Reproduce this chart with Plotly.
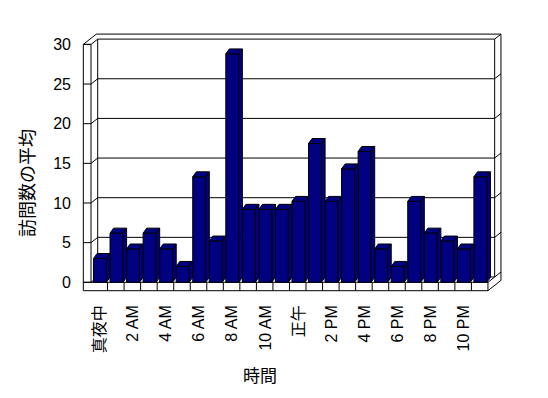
import plotly.graph_objects as go

# ---------------- data ----------------
hours = list(range(24))
visits = [3.0, 6.2, 4.2, 6.2, 4.2, 2.0, 13.3, 5.2, 28.8, 9.2, 9.2, 9.2,
          10.2, 17.5, 10.2, 14.3, 16.5, 4.2, 2.0, 10.2, 6.2, 5.2, 4.2, 13.3]
label_hours = [0, 2, 4, 6, 8, 10, 12, 14, 16, 18, 20, 22]
label_texts = ["真夜中", "2 AM", "4 AM", "6 AM", "8 AM", "10 AM",
               "正午", "2 PM", "4 PM", "6 PM", "8 PM", "10 PM"]
y_ticks = [0, 5, 10, 15, 20, 25, 30]
y_title = "訪問数の平均"
x_title = "時間"

# ---------------- layout calibration ----------------
# The page body has an 8px margin, so the figure starts at (8, 8) on screen.
OFF = 8
W, H = 548 - OFF, 398 - OFF
# screen-pixel targets -> figure pixels
PLOT_L, PLOT_R, PLOT_T, PLOT_B = 80 - OFF, 504 - OFF, 31 - OFF, 293 - OFF
ML, MR, MT, MB = PLOT_L, W - PLOT_R, PLOT_T, H - PLOT_B
PX0, SX = 91.0 - OFF, 16.54      # pixel of x=0, px per category
PY0, SY = 282.3 - OFF, 7.93      # pixel of y=0, px per unit
YMAX = 30

x_range = [(PLOT_L - PX0) / SX, (PLOT_R - PX0) / SX]
y_range = [(PY0 - PLOT_B) / SY, (PY0 - PLOT_T) / SY]

NAVY = "#000080"
FONT = "Liberation Sans, Noto Sans CJK JP, sans-serif"

BAR_OFF, BAR_W = 0.15, 0.785          # front face of each column
BDX, BDY = 3.6 / SX, 5.0 / SY         # column depth
WDX, WDY = 6.7 / SX, 5.3 / SY         # floor / wall depth
TDX, TDY = 6.3 / SX, 5.0 / SY         # back wall thickness
XL = -7.7 / SX                        # side wall thickness
FT = 8.4 / SY                         # floor thickness
N = len(hours)

shapes = []


def seg(x0, y0, x1, y1):
    shapes.append(dict(type="line", xref="x", yref="y", x0=x0, y0=y0, x1=x1, y1=y1,
                       line=dict(color="black", width=1), layer="below"))


# floor front strip and side-wall front face
seg(XL, -FT, N, -FT)
seg(XL, 0, N, 0)
seg(XL, -FT, XL, YMAX)
seg(N, -FT, N, 0)
seg(0, 0, 0, YMAX)
for k in range(1, N):
    seg(k, -FT, k, 0)
# side wall top
seg(XL, YMAX, XL + WDX + TDX, YMAX + WDY + TDY)
seg(XL, YMAX, 0, YMAX)
# back wall
seg(WDX, WDY, WDX, YMAX + WDY)
seg(N + WDX, WDY, N + WDX, YMAX + WDY)
seg(XL + WDX + TDX, YMAX + WDY + TDY, N + WDX + TDX, YMAX + WDY + TDY)
seg(N + WDX + TDX, -FT + WDY + TDY, N + WDX + TDX, YMAX + WDY + TDY)
seg(N, -FT, N + WDX + TDX, -FT + WDY + TDY)
seg(N, 0, N + WDX, WDY)
# gridlines (side wall -> back wall -> wall edge)
for v in y_ticks:
    seg(XL, v, 0, v)
    seg(0, v, WDX, v + WDY)
    seg(WDX, v + WDY, N + WDX, v + WDY)
    seg(N + WDX, v + WDY, N + WDX + TDX, v + WDY + TDY)

# ---------------- columns ----------------
fig = go.Figure()
fig.add_trace(go.Bar(
    x=hours, y=visits, width=BAR_W, offset=BAR_OFF,
    marker=dict(color=NAVY, line=dict(color="black", width=1)),
    showlegend=False, hoverinfo="y",
))

side_x, side_y, top_x, top_y = [], [], [], []
for h, v in zip(hours, visits):
    l = h + BAR_OFF
    r = l + BAR_W
    side_x += [r, r, r + BDX, r + BDX, r, None]
    side_y += [0, v, v + BDY, BDY, 0, None]
    top_x += [l, r, r + BDX, l + BDX, l, None]
    top_y += [v, v, v + BDY, v + BDY, v, None]

for xs, ys in ((side_x, side_y), (top_x, top_y)):
    fig.add_trace(go.Scatter(
        x=xs, y=ys, mode="lines", fill="toself", fillcolor=NAVY,
        line=dict(color="black", width=1), showlegend=False, hoverinfo="skip",
    ))

PW, PH = PLOT_R - PLOT_L, PLOT_B - PLOT_T
fig.update_layout(
    template="none",
    width=W, height=H,
    margin=dict(l=ML, r=MR, t=MT, b=MB, pad=0),
    paper_bgcolor="white", plot_bgcolor="white",
    font=dict(family=FONT, size=16, color="black"),
    shapes=shapes,
    xaxis=dict(range=x_range, showgrid=False, zeroline=False, showline=False,
               automargin=False, tickmode="array",
               tickvals=[h + BAR_OFF + BAR_W / 2 for h in label_hours],
               ticktext=label_texts, tickangle=-90, ticks="",
               ticklabelstandoff=8, tickfont=dict(size=16)),
    yaxis=dict(range=y_range, showgrid=False, zeroline=False, showline=False,
               automargin=False, tickmode="array", tickvals=y_ticks, ticks="",
               ticklabelstandoff=8, tickfont=dict(size=16)),
    annotations=[
        dict(text=x_title, xref="paper", yref="paper",
             x=(260 - OFF - PLOT_L) / PW, y=(PLOT_B - (377 - OFF)) / PH,
             showarrow=False, font=dict(size=17), xanchor="center", yanchor="middle"),
        dict(text=y_title, xref="paper", yref="paper",
             x=(28 - OFF - PLOT_L) / PW, y=(PLOT_B - (183 - OFF)) / PH,
             showarrow=False, textangle=-90, font=dict(size=18),
             xanchor="center", yanchor="middle"),
    ],
)

fig.write_html("out.html")
